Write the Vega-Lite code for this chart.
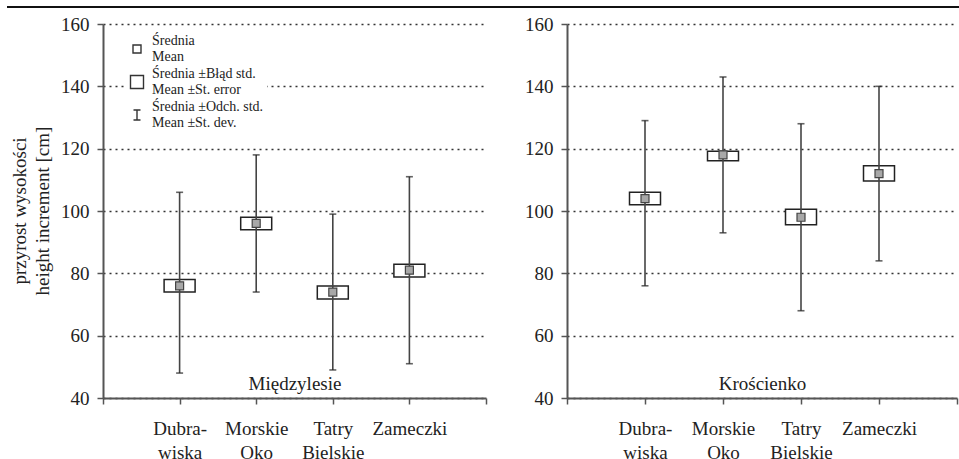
{
  "$schema": "https://vega.github.io/schema/vega-lite/v6.json",
  "padding": {"left": 6, "top": 6, "right": 0, "bottom": 0},
  "background": "white",
  "config": {
    "font": "Liberation Serif",
    "view": {"stroke": null},
    "text": {"font": "Liberation Serif"}
  },
  "datasets": {
    "miedzylesie": [
      {"area": "Dubrawiska", "mean": 76, "se_lo": 74, "se_hi": 78, "sd_lo": 48, "sd_hi": 106},
      {"area": "Morskie Oko", "mean": 96, "se_lo": 94, "se_hi": 98, "sd_lo": 74, "sd_hi": 118},
      {"area": "Tatry Bielskie", "mean": 74, "se_lo": 71.8, "se_hi": 75.9, "sd_lo": 49, "sd_hi": 99},
      {"area": "Zameczki", "mean": 81, "se_lo": 78.8, "se_hi": 82.9, "sd_lo": 51, "sd_hi": 111}
    ],
    "kroscienko": [
      {"area": "Dubrawiska", "mean": 104, "se_lo": 102, "se_hi": 106, "sd_lo": 76, "sd_hi": 129},
      {"area": "Morskie Oko", "mean": 118, "se_lo": 116.1, "se_hi": 119.2, "sd_lo": 93, "sd_hi": 143},
      {"area": "Tatry Bielskie", "mean": 98, "se_lo": 95.6, "se_hi": 100.6, "sd_lo": 68, "sd_hi": 128},
      {"area": "Zameczki", "mean": 112, "se_lo": 109.6, "se_hi": 114.5, "sd_lo": 84, "sd_hi": 140}
    ],
    "legend": [
      {"entry": "Średnia|Mean"},
      {"entry": "Średnia ±Błąd std.|Mean ±St. error"},
      {"entry": "Średnia ±Odch. std.|Mean ±St. dev."}
    ]
  },
  "spacing": 7,
  "vconcat": [
    {
      "width": 953, "height": 1,
      "data": {"values": [{"line": 0}]},
      "mark": {"type": "rule", "color": "#111", "strokeWidth": 2},
      "encoding": {"y": {"field": "line", "type": "quantitative", "axis": null, "scale": {"domain": [0, 1]}}}
    },
    {
      "spacing": 37,
      "hconcat": [
        {
          "spacing": 7,
          "hconcat": [
            {
              "width": 26, "height": 374,
              "data": {"values": [{"t": "przyrost wysokości|height increment [cm]"}]},
              "mark": {"type": "text", "angle": 270, "lineBreak": "|", "lineHeight": 23, "align": "center", "baseline": "middle", "fontSize": 19, "color": "#222", "font": "Liberation Serif"},
              "encoding": {"text": {"field": "t", "type": "nominal"}}
            },
            {
              "width": 383, "height": 374,
              "data": {"name": "miedzylesie"},
              "encoding": {
                "x": {
                  "field": "area", "type": "nominal",
                  "scale": {"type": "point", "domain": ["", "Dubrawiska", "Morskie Oko", "Tatry Bielskie", "Zameczki", " "], "padding": 0},
                  "axis": {
                    "labelExpr": "datum.value == 'Dubrawiska' ? ['Dubra-', 'wiska'] : split(datum.value, ' ')",
                    "domainColor": "#555", "domainWidth": 2, "tickColor": "#555", "tickWidth": 1.5, "tickSize": 6,
                    "labelFont": "Liberation Serif", "labelFontSize": 19, "labelColor": "#222", "labelPadding": 15,
                    "labelLineHeight": 24, "labelBaseline": "top", "labelAngle": 0, "grid": false,
                    "titleFont": "Liberation Serif", "titleFontSize": 19, "titleFontWeight": "normal", "titleColor": "#222",
                    "titleY": -9, "titleBaseline": "alphabetic"
                  },
                  "title": "Międzylesie"
                }
              },
              "layer": [
                {
                  "mark": {"type": "bar", "size": 31, "stroke": "#222", "strokeWidth": 1.5, "fill": "white"},
                  "encoding": {
                    "y": {
                      "field": "se_lo", "type": "quantitative", "scale": {"domain": [40, 160], "nice": false},
                      "title": null,
                      "axis": {
                        "values": [40, 60, 80, 100, 120, 140, 160],
                        "grid": true, "gridDash": [2, 4], "gridColor": "#333", "gridWidth": 1.3,
                        "domainColor": "#555", "domainWidth": 2, "tickColor": "#555", "tickWidth": 1.5, "tickSize": 6,
                        "labelFont": "Liberation Serif", "labelFontSize": 19, "labelColor": "#222", "labelPadding": 8
                      }
                    },
                    "y2": {"field": "se_hi"}
                  }
                },
                {
                  "mark": {"type": "rule", "color": "#444", "strokeWidth": 1.6},
                  "encoding": {"y": {"field": "sd_lo", "type": "quantitative"}, "y2": {"field": "sd_hi"}}
                },
                {
                  "mark": {"type": "tick", "color": "#222", "size": 7, "thickness": 1.6},
                  "encoding": {"y": {"field": "sd_lo", "type": "quantitative"}}
                },
                {
                  "mark": {"type": "tick", "color": "#222", "size": 7, "thickness": 1.6},
                  "encoding": {"y": {"field": "sd_hi", "type": "quantitative"}}
                },
                {
                  "mark": {"type": "square", "size": 64, "stroke": "#444", "strokeWidth": 1.2, "opacity": 1, "fill": "#a8a8a8"},
                  "encoding": {"y": {"field": "mean", "type": "quantitative"}}
                },
                {
                  "data": {"name": "legend"},
                  "mark": {"type": "point", "filled": true, "opacity": 0, "stroke": "#333", "strokeWidth": 1.4},
                  "encoding": {
                    "fill": {
                      "field": "entry", "type": "nominal",
                      "scale": {
                        "domain": ["Średnia|Mean", "Średnia ±Błąd std.|Mean ±St. error", "Średnia ±Odch. std.|Mean ±St. dev."],
                        "range": ["#a0a0a0", "#ffffff", "transparent"]
                      },
                      "legend": {
                        "orient": "none", "legendX": 119, "legendY": 24, "title": null, "padding": 3,
                        "fillColor": "white", "labelFont": "Liberation Serif", "labelFontSize": 14, "labelColor": "#222",
                        "labelExpr": "split(datum.label, '|')", "labelOffset": 7,
                        "labelBaseline": "middle", "rowPadding": 2, "labelLimit": 300,
                        "symbolOpacity": 1, "symbolStrokeColor": "#333", "symbolStrokeWidth": 1.4
                      }
                    },
                    "shape": {
                      "field": "entry", "type": "nominal",
                      "scale": {
                        "domain": ["Średnia|Mean", "Średnia ±Błąd std.|Mean ±St. error", "Średnia ±Odch. std.|Mean ±St. dev."],
                        "range": [
                          "M-0.571,0.571H0.571V1.714H-0.571Z",
                          "M-0.929,0.214H0.929V2.071H-0.929Z",
                          "M-0.5,0.429H0.5M0,0.429V1.857M-0.5,1.857H0.5"
                        ]
                      }
                    },
                    "size": {
                      "field": "entry", "type": "nominal",
                      "scale": {
                        "domain": ["Średnia|Mean", "Średnia ±Błąd std.|Mean ±St. error", "Średnia ±Odch. std.|Mean ±St. dev."],
                        "range": [196, 196, 196]
                      }
                    }
                  }
                }
              ]
            }
          ]
        },
        {
          "width": 390, "height": 374,
          "data": {"name": "kroscienko"},
          "encoding": {
            "x": {
              "field": "area", "type": "nominal",
              "scale": {"type": "point", "domain": ["", "Dubrawiska", "Morskie Oko", "Tatry Bielskie", "Zameczki", " "], "padding": 0},
              "axis": {
                "labelExpr": "datum.value == 'Dubrawiska' ? ['Dubra-', 'wiska'] : split(datum.value, ' ')",
                "domainColor": "#555", "domainWidth": 2, "tickColor": "#555", "tickWidth": 1.5, "tickSize": 6,
                "labelFont": "Liberation Serif", "labelFontSize": 19, "labelColor": "#222", "labelPadding": 15,
                "labelLineHeight": 24, "labelBaseline": "top", "labelAngle": 0, "grid": false,
                "titleFont": "Liberation Serif", "titleFontSize": 19, "titleFontWeight": "normal", "titleColor": "#222",
                "titleY": -9, "titleBaseline": "alphabetic"
              },
              "title": "Krościenko"
            }
          },
          "layer": [
            {
              "mark": {"type": "bar", "size": 31, "stroke": "#222", "strokeWidth": 1.5, "fill": "white"},
              "encoding": {
                "y": {
                  "field": "se_lo", "type": "quantitative", "scale": {"domain": [40, 160], "nice": false}, "title": null,
                  "axis": {
                    "values": [40, 60, 80, 100, 120, 140, 160],
                    "grid": true, "gridDash": [2, 4], "gridColor": "#333", "gridWidth": 1.3,
                    "domainColor": "#555", "domainWidth": 2, "tickColor": "#555", "tickWidth": 1.5, "tickSize": 6,
                    "labelFont": "Liberation Serif", "labelFontSize": 19, "labelColor": "#222", "labelPadding": 8
                  }
                },
                "y2": {"field": "se_hi"}
              }
            },
            {
              "mark": {"type": "rule", "color": "#444", "strokeWidth": 1.6},
              "encoding": {"y": {"field": "sd_lo", "type": "quantitative"}, "y2": {"field": "sd_hi"}}
            },
            {
              "mark": {"type": "tick", "color": "#222", "size": 7, "thickness": 1.6},
              "encoding": {"y": {"field": "sd_lo", "type": "quantitative"}}
            },
            {
              "mark": {"type": "tick", "color": "#222", "size": 7, "thickness": 1.6},
              "encoding": {"y": {"field": "sd_hi", "type": "quantitative"}}
            },
            {
              "mark": {"type": "square", "size": 64, "stroke": "#444", "strokeWidth": 1.2, "opacity": 1, "fill": "#a8a8a8"},
              "encoding": {"y": {"field": "mean", "type": "quantitative"}}
            }
          ]
        }
      ]
    }
  ]
}
